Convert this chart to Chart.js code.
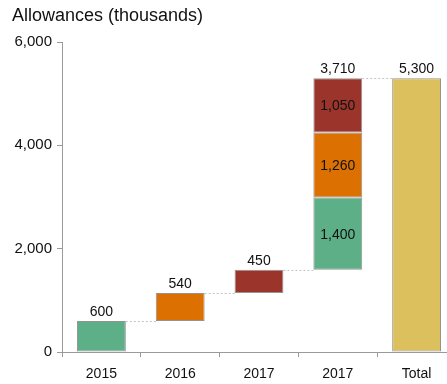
<!DOCTYPE html>
<html>
<head>
<meta charset="utf-8">
<script src="https://cdn.jsdelivr.net/npm/chart.js@4"></script>
<style>
  body { margin: 0; overflow: hidden; background: #fff; }
  #wrap { width: 456px; height: 384px; }
</style>
</head>
<body>
<div id="wrap"><canvas id="chart" width="456" height="384"></canvas></div>
<script>
// yearly increments, then the split of the last year and the total
const categories = ["2015", "2016", "2017", "2017", "Total"];
const steps = [600, 540, 450];
const split = [1400, 1260, 1050]; // green, orange, red parts of the 4th column
const total = 5300;
const yTicks = [0, 2000, 4000, 6000];

const GREEN = "#5caf86";
const ORANGE = "#dc7000";
const RED = "#9b342b";
const GOLD = "#ddc05e";
const FONT = "'Liberation Sans', Arial, sans-serif";

// running totals -> floating bars [from, to]
const green = [null, null, null, null, null];
const orange = [null, null, null, null, null];
const red = [null, null, null, null, null];
const gold = [null, null, null, null, [0, total]];
const sets = [green, orange, red];
let run = 0;
steps.forEach((v, i) => {
  sets[i][i] = [run, run + v];
  run += v;
});
const splitStart = run;
split.forEach((v, i) => {
  sets[i][3] = [run, run + v];
  run += v;
});
const splitSum = split.reduce((a, b) => a + b, 0);

const fmt = (v) => v.toLocaleString("en-US");

// labels above and inside bars, plus dotted connectors
const waterfallPlugin = {
  id: "waterfall",
  afterDatasetsDraw(chart) {
    const ctx = chart.ctx;
    const x = chart.scales.x;
    const y = chart.scales.y;
    const meta = chart.getDatasetMeta(0);
    const half = meta.data[0].width / 2;

    ctx.save();
    // connectors
    ctx.strokeStyle = "#c4c4c4";
    ctx.lineWidth = 1;
    ctx.setLineDash([2, 2]);
    const levels = [];
    let acc = 0;
    steps.forEach((v) => { acc += v; levels.push(acc); });
    levels.push(total);
    levels.forEach((lv, i) => {
      const py = Math.round(y.getPixelForValue(lv)) + 0.5;
      ctx.beginPath();
      ctx.moveTo(x.getPixelForValue(i) + half, py);
      ctx.lineTo(x.getPixelForValue(i + 1) - half, py);
      ctx.stroke();
    });
    ctx.setLineDash([]);

    // labels
    ctx.fillStyle = "#111";
    ctx.font = "14px " + FONT;
    ctx.textAlign = "center";
    ctx.textBaseline = "alphabetic";
    acc = 0;
    steps.forEach((v, i) => {
      acc += v;
      ctx.fillText(fmt(v), x.getPixelForValue(i), y.getPixelForValue(acc) - 5);
    });
    ctx.fillText(fmt(splitSum), x.getPixelForValue(3), y.getPixelForValue(splitStart + splitSum) - 5);
    ctx.fillText(fmt(total), x.getPixelForValue(4), y.getPixelForValue(total) - 5);

    ctx.textBaseline = "middle";
    let lo = splitStart;
    split.forEach((v) => {
      const mid = y.getPixelForValue(lo + v / 2);
      ctx.fillText(fmt(v), x.getPixelForValue(3), mid + 1);
      lo += v;
    });

    // heading
    ctx.textAlign = "left";
    ctx.textBaseline = "middle";
    ctx.font = "18px " + FONT;
    ctx.fillText("Allowances (thousands)", 12, 16);
    ctx.restore();
  }
};

const barStyle = {
  grouped: false,
  borderColor: "#939393",
  borderWidth: 1,
  borderSkipped: false,
  categoryPercentage: 1,
  barPercentage: 0.62
};

new Chart(document.getElementById("chart"), {
  type: "bar",
  data: {
    labels: categories,
    datasets: [
      Object.assign({ data: green, backgroundColor: GREEN }, barStyle),
      Object.assign({ data: orange, backgroundColor: ORANGE }, barStyle),
      Object.assign({ data: red, backgroundColor: RED }, barStyle),
      Object.assign({ data: gold, backgroundColor: GOLD }, barStyle)
    ]
  },
  options: {
    responsive: false,
    animation: false,
    layout: { padding: { top: 42, left: 0, right: 0, bottom: 0 } },
    plugins: {
      legend: { display: false },
      tooltip: { enabled: false }
    },
    scales: {
      x: {
        grid: {
          offset: true,
          drawOnChartArea: false,
          tickLength: 5,
          color: "#9a9a9a"
        },
        border: { color: "#9a9a9a" },
        ticks: {
          color: "#111",
          padding: 9,
          font: { family: FONT, size: 14 }
        },
        afterFit(scale) { scale.height = 32; }
      },
      y: {
        min: 0,
        max: 6000,
        afterBuildTicks(scale) {
          scale.ticks = yTicks.map((v) => ({ value: v }));
        },
        grid: {
          drawOnChartArea: false,
          tickLength: 5,
          color: "#9a9a9a"
        },
        border: { color: "#9a9a9a" },
        ticks: {
          color: "#111",
          padding: 5,
          callback: (v) => fmt(v),
          font: { family: FONT, size: 15 }
        },
        afterFit(scale) { scale.width = 62; }
      }
    }
  },
  plugins: [waterfallPlugin]
});
</script>
</body>
</html>
